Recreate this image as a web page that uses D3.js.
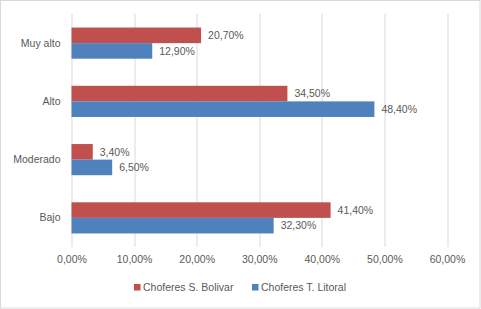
<!DOCTYPE html>
<html>
<head>
<meta charset="utf-8">
<script src="https://cdn.jsdelivr.net/npm/d3@7"></script>
<style>
  body { margin: 0; background: #fff; }
  text { font-family: "Liberation Sans", Arial, sans-serif; fill: #595959; }
</style>
</head>
<body>
<div id="wrapper"></div>
<script>
const categories = ["Muy alto", "Alto", "Moderado", "Bajo"]
const seriesNames = ["Choferes S. Bolivar", "Choferes T. Litoral"]
const bolivar = [20.7, 34.5, 3.4, 41.4]
const litoral = [12.9, 48.4, 6.5, 32.3]
const xTicks = [0, 10, 20, 30, 40, 50, 60]
const colors = ["#C0504D", "#4F81BD"]

const fmt = v => v.toFixed(2).replace(".", ",") + "%"

let dimensions = {
  width: 481,
  height: 309,
  margin: { top: 14, right: 34, bottom: 62, left: 71.5 }
}
dimensions.boundedWidth = dimensions.width - dimensions.margin.left - dimensions.margin.right
dimensions.boundedHeight = dimensions.height - dimensions.margin.top - dimensions.margin.bottom

const wrapper = d3.select("#wrapper")
  .append("svg")
    .attr("width", dimensions.width)
    .attr("height", dimensions.height)

wrapper.append("rect")
  .attr("x", 0.5).attr("y", 0.5)
  .attr("width", dimensions.width - 1.5)
  .attr("height", dimensions.height - 1.5)
  .attr("fill", "#fff")
  .attr("stroke", "#d9d9d9")

const bounds = wrapper.append("g")
  .attr("transform", `translate(${dimensions.margin.left},${dimensions.margin.top})`)

const xScale = d3.scaleLinear()
  .domain([0, 60])
  .range([0, 375.5])

const yScale = d3.scaleBand()
  .domain(categories)
  .range([0, dimensions.boundedHeight])
  .paddingInner(0.465)
  .paddingOuter(0.2325)

const inner = d3.scaleBand()
  .domain(seriesNames)
  .range([0, yScale.bandwidth()])

// gridlines
bounds.append("g")
  .selectAll("line")
  .data(xTicks)
  .join("line")
    .attr("x1", d => Math.round(xScale(d)) + 0.5)
    .attr("x2", d => Math.round(xScale(d)) + 0.5)
    .attr("y1", 0)
    .attr("y2", dimensions.boundedHeight)
    .attr("stroke", "#d9d9d9")

const series = [bolivar, litoral]
series.forEach((values, si) => {
  const g = bounds.append("g")
  g.selectAll("rect")
    .data(values)
    .join("rect")
      .attr("x", xScale(0))
      .attr("y", (d, i) => yScale(categories[i]) + inner(seriesNames[si]))
      .attr("width", d => xScale(d) - xScale(0))
      .attr("height", inner.bandwidth())
      .attr("fill", colors[si])
  g.selectAll("text")
    .data(values)
    .join("text")
      .attr("x", d => xScale(d) + 7)
      .attr("y", (d, i) => yScale(categories[i]) + inner(seriesNames[si]) + inner.bandwidth() / 2)
      .attr("dy", "0.35em")
      .style("font-size", "10.5px")
      .text(d => fmt(d))
})

// category labels
const yAxisGenerator = d3.axisLeft(yScale).tickSize(0).tickPadding(11)
const yAxis = bounds.append("g").call(yAxisGenerator)
yAxis.select(".domain").remove()
yAxis.selectAll("text")
  .style("font-size", "10.5px")
  .style("font-family", null)
  .attr("fill", null)

// x axis tick labels
const xAxisGenerator = d3.axisBottom(xScale)
  .tickValues(xTicks)
  .tickFormat(fmt)
  .tickSize(0)
  .tickPadding(9)
const xAxis = bounds.append("g")
  .attr("transform", `translate(0,${dimensions.boundedHeight})`)
  .call(xAxisGenerator)
xAxis.select(".domain").remove()
xAxis.selectAll("text")
  .style("font-size", "10.5px")
  .style("font-family", null)
  .attr("fill", null)

// legend
const legendX = [134, 252]
const legend = wrapper.append("g")
seriesNames.forEach((name, i) => {
  legend.append("rect")
    .attr("x", legendX[i]).attr("y", 284)
    .attr("width", 6.5).attr("height", 6.5)
    .attr("fill", colors[i])
  legend.append("text")
    .attr("x", legendX[i] + 9).attr("y", 287.5)
    .attr("dy", "0.35em")
    .style("font-size", "10.5px")
    .text(name)
})
</script>
</body>
</html>
